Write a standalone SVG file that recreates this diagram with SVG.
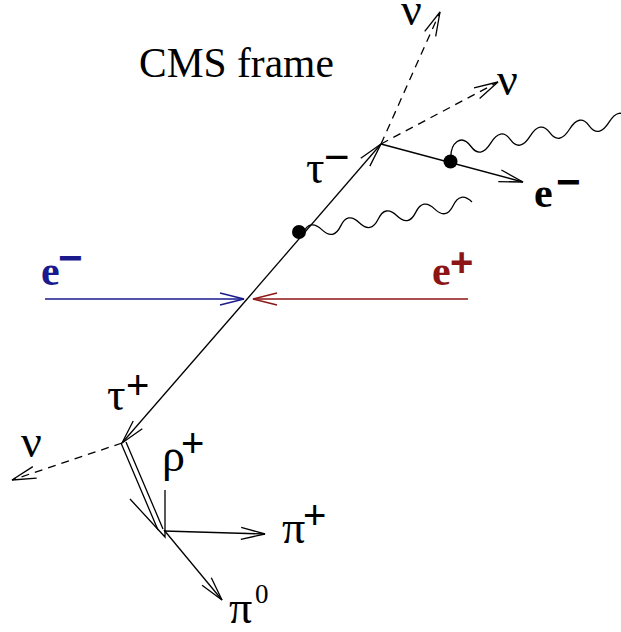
<svg xmlns="http://www.w3.org/2000/svg" width="621" height="632" viewBox="0 0 621 632">
<style>
.ln{fill:none;stroke:#000;stroke-width:1.3}
.ds{fill:none;stroke:#000;stroke-width:1.3;stroke-dasharray:8 6}
.t{font-family:'Liberation Serif','Times New Roman','DejaVu Serif',serif;fill:#000}
.g{font-family:'Liberation Serif','Times New Roman','DejaVu Serif',serif;font-size:46px;fill:#000}
.s{font-family:'Liberation Sans',Arial,sans-serif;fill:#000}
</style>
<defs>
<marker id="ak" viewBox="-26 -8 28 16" refX="0" refY="0" markerWidth="28" markerHeight="16" orient="auto" markerUnits="userSpaceOnUse"><path d="M-24,-6 L0,0 L-24,6" fill="none" stroke="#000" stroke-width="1.3" stroke-dasharray="none"/></marker>
<marker id="ab" viewBox="-26 -8 28 16" refX="0" refY="0" markerWidth="28" markerHeight="16" orient="auto" markerUnits="userSpaceOnUse"><path d="M-24,-6 L0,0 L-24,6" fill="none" stroke="#1a1a8c" stroke-width="1.3"/></marker>
<marker id="ar" viewBox="-26 -8 28 16" refX="0" refY="0" markerWidth="28" markerHeight="16" orient="auto" markerUnits="userSpaceOnUse"><path d="M-24,-6 L0,0 L-24,6" fill="none" stroke="#8c1414" stroke-width="1.3"/></marker>
</defs>
<g id="connectors">
<path class="ln" d="M248,298 L381,144" marker-end="url(#ak)"/>
<path class="ln" d="M248,298 L122,443" marker-end="url(#ak)"/>
<path d="M45,299 L244,299" fill="none" stroke="#1a1a8c" stroke-width="1.3" marker-end="url(#ab)"/>
<path d="M468,299 L253,299" fill="none" stroke="#8c1414" stroke-width="1.3" marker-end="url(#ar)"/>
<path class="ds" d="M381,144 L440,12" marker-end="url(#ak)"/>
<path class="ds" d="M381,144 L498,82" marker-end="url(#ak)"/>
<path class="ln" d="M381,144 L523,182" marker-end="url(#ak)"/>
<path class="ds" d="M122,443 L12,480" marker-end="url(#ak)"/>
<path class="ln" d="M121,443 L158,530 M126,442 L163,529"/>
<path class="ln" d="M130,499 L165,537 L165,490"/>
<path class="ln" d="M164,531 L265,534" marker-end="url(#ak)"/>
<path class="ln" d="M164,530 L222,600" marker-end="url(#ak)"/>
<path class="ln" d="M303,233 Q310.1,218.5 321.8,229.6 T340.6,226.1 T359.3,222.7 T378.1,219.2 T396.9,215.8 T415.7,212.4 T434.5,208.9 T453.2,205.5 T472,202"/>
<path class="ln" d="M451,159 C450,143 461,133 471,146.5 Q480.5,159.3 490.7,143.05 T510.4,139.6 T530.1,136.15 T549.8,132.7 T569.5,129.25 T589.2,125.8 T608.9,122.35 T628.6,118.9"/>
</g>
<g id="dot1"><circle cx="299" cy="232" r="7" fill="#000"/></g>
<g id="dot2"><circle cx="450.5" cy="161.5" r="7" fill="#000"/></g>
<g id="title"><text class="t" x="139" y="77" font-size="41.5" font-family="Liberation Serif, serif">CMS frame</text></g>
<g id="e-minus-beam">
<text class="t" x="41" y="285" font-size="42" font-weight="bold" font-family="Liberation Serif, serif" style="fill:#1a1a8c">e</text>
<text class="s" x="58" y="271.5" font-size="42" font-weight="bold" style="fill:#1a1a8c">−</text>
</g>
<g id="e-plus-beam">
<text class="t" x="432" y="285" font-size="42" font-weight="bold" font-family="Liberation Serif, serif" style="fill:#8c1414">e</text>
<text class="s" x="450" y="275.8" font-size="40" font-weight="bold" style="fill:#8c1414">+</text>
</g>
<g id="tau-minus">
<text class="g" x="306" y="183" font-family="Liberation Serif, serif">τ</text>
<text class="s" x="324" y="172" font-size="44">−</text>
</g>
<g id="tau-plus">
<text class="g" x="107" y="410" font-family="Liberation Serif, serif">τ</text>
<text class="s" x="126" y="398.8" font-size="40">+</text>
</g>
<g id="nu-top"><text class="g" x="401" y="25" font-family="Liberation Serif, serif">ν</text></g>
<g id="nu-right"><text class="g" x="497" y="95" font-family="Liberation Serif, serif">ν</text></g>
<g id="nu-left"><text class="g" x="21" y="457" font-family="Liberation Serif, serif">ν</text></g>
<g id="e-minus-out">
<text class="t" x="534" y="207" font-size="42" font-weight="bold" font-family="Liberation Serif, serif">e</text>
<text class="s" x="556" y="195.5" font-size="42" font-weight="bold">−</text>
</g>
<g id="rho-plus">
<text class="g" x="162" y="471" font-family="Liberation Serif, serif">ρ</text>
<text class="s" x="181" y="456.8" font-size="40">+</text>
</g>
<g id="pi-plus">
<text class="g" x="282" y="543" font-family="Liberation Serif, serif">π</text>
<text class="s" x="303" y="528.8" font-size="40">+</text>
</g>
<g id="pi-zero">
<text class="g" x="229" y="623" font-family="Liberation Serif, serif">π</text>
<text class="t" x="255" y="603" font-size="27" font-family="Liberation Serif, serif">0</text>
</g>
</svg>
